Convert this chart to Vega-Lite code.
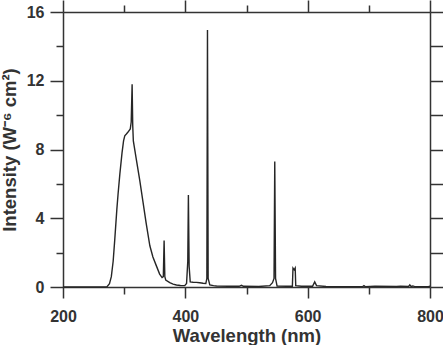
{
  "$schema": "https://vega.github.io/schema/vega-lite/v6.json",
  "autosize": {"type": "none"},
  "width": 367,
  "height": 275,
  "padding": {"left": 63, "top": 12, "right": 13, "bottom": 58},
  "background": "white",
  "config": {
    "view": {"stroke": null},
    "axis": {
      "grid": false,
      "labelFlush": false,
      "labelOverlap": false,
      "domainColor": "#333333",
      "domainWidth": 1.5,
      "tickColor": "#333333",
      "tickWidth": 1.5,
      "labelFont": "Liberation Sans",
      "labelFontWeight": "bold",
      "labelFontSize": 16,
      "labelColor": "#333333",
      "titleFont": "Liberation Sans",
      "titleFontWeight": "bold",
      "titleFontSize": 18.5,
      "titleColor": "#333333"
    }
  },
  "data": {
    "values": [
      {"w": 200, "i": 0}, {"w": 250, "i": 0}, {"w": 270, "i": 0}, {"w": 272, "i": 0.02},
      {"w": 276, "i": 0.2}, {"w": 279, "i": 0.6}, {"w": 282, "i": 1.5}, {"w": 284.5, "i": 2.7},
      {"w": 288, "i": 4.5}, {"w": 290, "i": 5.4}, {"w": 293, "i": 6.6}, {"w": 296.5, "i": 7.8},
      {"w": 299, "i": 8.5}, {"w": 301, "i": 8.8}, {"w": 303.6, "i": 8.9}, {"w": 306, "i": 9.0},
      {"w": 310, "i": 9.2}, {"w": 311.5, "i": 9.6}, {"w": 313, "i": 11.8}, {"w": 314, "i": 9.4},
      {"w": 315, "i": 8.5}, {"w": 320, "i": 7.4}, {"w": 325.5, "i": 6.2}, {"w": 331, "i": 4.9},
      {"w": 336, "i": 3.7}, {"w": 342, "i": 2.4}, {"w": 347, "i": 1.75}, {"w": 353, "i": 1.2},
      {"w": 358, "i": 0.75}, {"w": 362, "i": 0.55}, {"w": 364, "i": 0.6}, {"w": 365.3, "i": 2.7},
      {"w": 366.5, "i": 0.6}, {"w": 368, "i": 0.4}, {"w": 374.5, "i": 0.25}, {"w": 380, "i": 0.17},
      {"w": 385.5, "i": 0.12}, {"w": 392, "i": 0.09}, {"w": 399, "i": 0.08}, {"w": 402, "i": 0.2},
      {"w": 404, "i": 1.5}, {"w": 405, "i": 5.35}, {"w": 406.2, "i": 1.2}, {"w": 408, "i": 0.3},
      {"w": 412.7, "i": 0.28}, {"w": 418, "i": 0.27}, {"w": 423.6, "i": 0.25}, {"w": 429, "i": 0.22},
      {"w": 433.5, "i": 0.2}, {"w": 435.2, "i": 0.5}, {"w": 436.2, "i": 14.95}, {"w": 437.3, "i": 0.5},
      {"w": 440, "i": 0.12}, {"w": 446, "i": 0.08}, {"w": 451, "i": 0.06}, {"w": 470, "i": 0.04},
      {"w": 488, "i": 0.04}, {"w": 491.8, "i": 0.1}, {"w": 495, "i": 0.04}, {"w": 520, "i": 0.03},
      {"w": 538, "i": 0.08}, {"w": 542.5, "i": 0.25}, {"w": 545, "i": 0.5}, {"w": 546.2, "i": 7.3},
      {"w": 547.5, "i": 0.5}, {"w": 550, "i": 0.05}, {"w": 565, "i": 0.04}, {"w": 575, "i": 0.04},
      {"w": 576, "i": 1.1}, {"w": 578, "i": 1.0}, {"w": 579.6, "i": 1.1}, {"w": 580.5, "i": 0.08},
      {"w": 590, "i": 0.04}, {"w": 608, "i": 0.04}, {"w": 611.5, "i": 0.3}, {"w": 614.5, "i": 0.08},
      {"w": 630, "i": 0.03}, {"w": 660, "i": 0.02}, {"w": 690, "i": 0.03}, {"w": 692, "i": 0.08},
      {"w": 694, "i": 0.02}, {"w": 710, "i": 0.05}, {"w": 745, "i": 0.03}, {"w": 752, "i": 0.05},
      {"w": 765, "i": 0.03}, {"w": 767, "i": 0.12}, {"w": 769, "i": 0.03}, {"w": 772, "i": 0.06},
      {"w": 775, "i": 0.02}, {"w": 798, "i": 0.03}, {"w": 800, "i": 0.05}
    ]
  },
  "resolve": {"axis": {"x": "independent", "y": "independent"}},
  "layer": [
    {
      "mark": {"type": "line", "color": "#262626", "strokeWidth": 1.4},
      "encoding": {
        "x": {"field": "w", "type": "quantitative", "scale": {"domain": [200, 800], "nice": false},
          "axis": {"orient": "bottom", "values": [200, 400, 600, 800], "tickSize": 11, "labelPadding": 10, "title": "Wavelength (nm)", "titlePadding": 2}},
        "y": {"field": "i", "type": "quantitative", "scale": {"domain": [0, 16], "nice": false},
          "axis": {"orient": "left", "values": [0, 4, 8, 12, 16], "tickSize": 13, "labelPadding": 6, "title": "Intensity (W⁻⁶ cm²)", "titlePadding": 7}}
      }
    },
    {
      "mark": {"type": "line", "opacity": 0},
      "encoding": {
        "x": {"field": "w", "type": "quantitative",
          "axis": {"orient": "bottom", "values": [300, 500, 700], "tickSize": 7, "labels": false, "domain": false, "title": null}},
        "y": {"field": "i", "type": "quantitative",
          "axis": {"orient": "left", "values": [2, 6, 10, 14], "tickSize": 7, "labels": false, "domain": false, "title": null}}
      }
    },
    {
      "mark": {"type": "line", "opacity": 0},
      "encoding": {
        "x": {"field": "w", "type": "quantitative",
          "axis": {"orient": "top", "values": [200, 400, 600, 800], "tickSize": 12, "labels": false, "title": null}},
        "y": {"field": "i", "type": "quantitative",
          "axis": {"orient": "right", "values": [0, 4, 8, 12, 16], "tickSize": 13, "labels": false, "title": null}}
      }
    },
    {
      "mark": {"type": "line", "opacity": 0},
      "encoding": {
        "x": {"field": "w", "type": "quantitative",
          "axis": {"orient": "top", "values": [300, 500, 700], "tickSize": 7, "labels": false, "domain": false, "title": null}},
        "y": {"field": "i", "type": "quantitative",
          "axis": {"orient": "right", "values": [2, 6, 10, 14], "tickSize": 13, "labels": false, "domain": false, "title": null}}
      }
    }
  ]
}
